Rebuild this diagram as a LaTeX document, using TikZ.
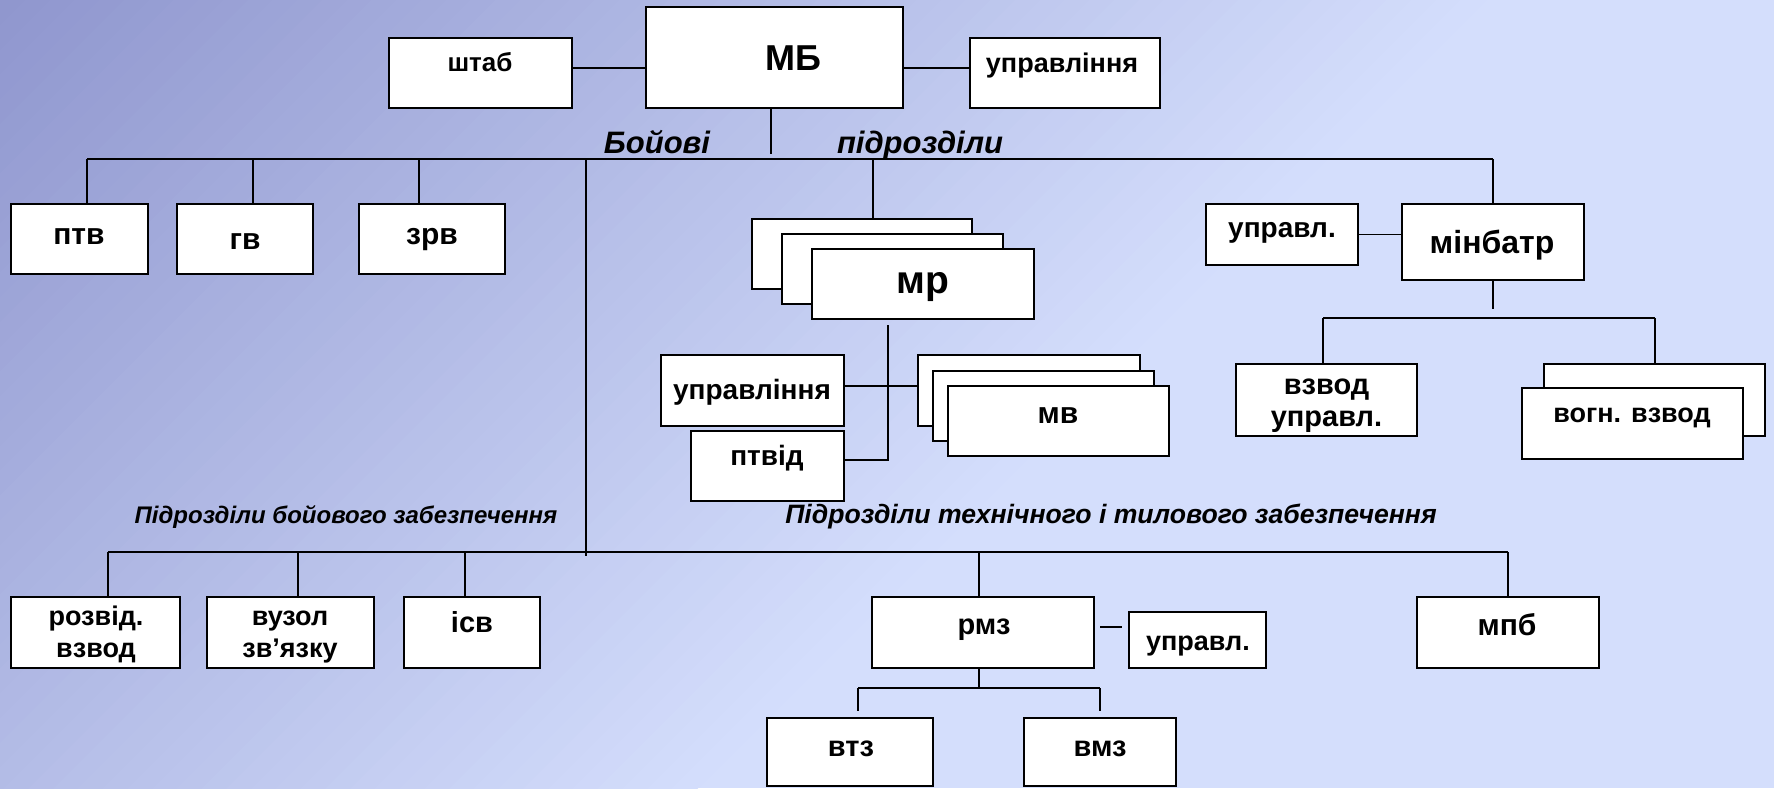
\documentclass[tikz,border=0pt]{standalone}
\usepackage{fontspec}
\setmainfont{Liberation Sans}
\definecolor{bgdark}{RGB}{143,150,206}
\definecolor{bglight}{RGB}{212,222,252}
\begin{document}
\begin{tikzpicture}[x=0.5pt,y=-0.5pt,
  bx/.style 2 args={draw=black, fill=white, line width=0.9pt, minimum width=#1*0.5pt, minimum height=#2*0.5pt, inner sep=0pt, outer sep=0pt},
  lbl/.style={font=\bfseries\fontsize{#1pt}{#1pt}\selectfont, text height=0.72*#1pt, text depth=0.2*#1pt, inner sep=0pt},
  ml/.style={font=\bfseries\fontsize{#1pt}{16pt}\selectfont, align=center, inner sep=0pt},
  it/.style={font=\bfseries\itshape\fontsize{#1pt}{#1pt}\selectfont, inner sep=0pt, anchor=base},
  ln/.style={line width=0.8pt, draw=black}]
\useasboundingbox (0,0) rectangle (1774,788);
% background gradient (diagonal, dark at top-left)
\fill[bglight] (0,0) rectangle (1774,788);
\begin{scope}
\clip (0,0) rectangle (1774,788);
\foreach \i in {0,...,59} {
  \pgfmathsetmacro\sa{\i*24.75}
  \pgfmathsetmacro\sb{\sa+26}
  \pgfmathsetmacro\pc{(\i+0.5)/60*100}
  \fill[bglight!\pc!bgdark] (\sa,0) -- (\sb,0) -- (\sb-900,900) -- (\sa-900,900) -- cycle;
}
\end{scope}

% boxes
\node[bx={183}{70}] (shtab) at (480.5,73) {};
\node[bx={257}{101}] (MB) at (774.5,57.5) {};
\node[bx={190}{70}] (uprT) at (1065,73) {};
\node[bx={137}{70}] (ptv) at (79.5,239) {};
\node[bx={136}{70}] (gv) at (245,239) {};
\node[bx={146}{70}] (zrv) at (432,239) {};
\node[bx={220}{70}] (mr1) at (862,254) {};
\node[bx={221}{70}] (mr2) at (892.5,269) {};
\node[bx={222}{70}] (mr3) at (923,284) {};
\node[bx={183}{71}] (uprM) at (752.5,390.5) {};
\node[bx={153}{70}] (ptvid) at (767.5,466) {};
\node[bx={222}{71}] (mv1) at (1029,390.5) {};
\node[bx={221}{70}] (mv2) at (1043.5,406) {};
\node[bx={221}{70}] (mv3) at (1058.5,421) {};
\node[bx={152}{61}] (uprB) at (1282,234.5) {};
\node[bx={182}{76}] (minb) at (1493,242) {};
\node[bx={181}{72}] (vzu) at (1326.5,400) {};
\node[bx={221}{72}] (vog1) at (1654.5,400) {};
\node[bx={221}{71}] (vog2) at (1632.5,423.5) {};
\node[bx={169}{71}] (rozv) at (95.5,632.5) {};
\node[bx={167}{71}] (vuz) at (290.5,632.5) {};
\node[bx={136}{71}] (isv) at (472,632.5) {};
\node[bx={222}{71}] (rmz) at (983,632.5) {};
\node[bx={137}{56}] (uprR) at (1197.5,640) {};
\node[bx={182}{71}] (mpb) at (1508,632.5) {};
\node[bx={166}{68}] (vtz) at (850,752) {};
\node[bx={152}{68}] (vmz) at (1100,752) {};

% texts
\node[lbl=13] (t-shtab) at (480,65) {штаб};
\node[lbl=18] (t-MB) at (793,61.5) {МБ};
\node[lbl=13.5] (t-uprT) at (1062,65) {управління};
\node[lbl=15] (t-ptv) at (79,237) {птв};
\node[lbl=15] (t-gv) at (245,242) {гв};
\node[lbl=15] (t-zrv) at (432,237) {зрв};
\node[lbl=19.5] (t-mr) at (923,283) {мр};
\node[lbl=14] (t-uprM) at (752,392) {управління};
\node[lbl=14] (t-ptvid) at (767,458) {птвід};
\node[lbl=15] (t-mv) at (1058,416) {мв};
\node[lbl=14] (t-uprB) at (1282,230) {управл.};
\node[lbl=16] (t-minb) at (1492,245) {мінбатр};
\node[ml=14.5] (t-vzu) at (1326.5,405.5) {взвод\\управл.};
\node[lbl=13.5] (t-vog) at (1632,415) {вогн. взвод};
\node[ml=13.5] (t-rozv) at (96,634) {розвід.\\взвод};
\node[ml=13.5] (t-vuz) at (290,637) {вузол\\зв’язку};
\node[lbl=14.5] (t-isv) at (472,625) {ісв};
\node[lbl=14.5] (t-rmz) at (984,627) {рмз};
\node[lbl=13.5] (t-uprR) at (1198,643) {управл.};
\node[lbl=15] (t-mpb) at (1507,628) {мпб};
\node[lbl=14.5] (t-vtz) at (851,749) {втз};
\node[lbl=14.5] (t-vmz) at (1100,749) {вмз};

\node[it=15.5] (t-boy) at (657,153) {Бойові};
\node[it=15.5] (t-pidr) at (920,153) {підрозділи};
\node[it=12] (t-pbz) at (346,523) {Підрозділи бойового забезпечення};
\node[it=13.3] (t-ptz) at (1111,523) {Підрозділи технічного і тилового забезпечення};

% connectors top
\path ([yshift=2.5pt]shtab.east) coordinate (a1);
\draw[ln] (a1) -- (a1 -| MB.west);
\draw[ln] (MB.east |- a1) -- (a1 -| uprT.west);
\draw[ln] ([xshift=-1.75pt]MB.south) -- ++(0,46);
\coordinate (busL) at (87,159);
\coordinate (busR) at (1493,159);
\draw[ln] (busL) -- (busR);
\draw[ln] (busL) -- (busL |- ptv.north);
\coordinate (g1) at (253,159);
\draw[ln] (g1) -- (g1 |- gv.north);
\coordinate (g2) at (419,159);
\draw[ln] (g2) -- (g2 |- zrv.north);
\coordinate (g3) at (873,159);
\draw[ln] (g3) -- (g3 |- mr1.north);
\draw[ln] (busR) -- (minb.north);
\coordinate (vtop) at (586,159);
\coordinate (vbot) at (586,556);
\draw[ln] (vtop) -- (vbot);

% minbatr group
\draw[ln] (uprB.east) -- (uprB.east -| minb.west);
\draw[ln] (minb.south) -- ++(0,29);
\coordinate (b2L) at (1323,318);
\coordinate (b2R) at (1655,318);
\draw[ln] (b2L) -- (b2R);
\draw[ln] (b2L) -- (b2L |- vzu.north);
\draw[ln] (b2R) -- (b2R |- vog1.north);

% mr group
\coordinate (mrtop) at (888,325);
\path ([yshift=3pt]ptvid.east) coordinate (a3);
\draw[ln] (mrtop) -- (mrtop |- a3) -- (a3);
\path ([yshift=2.25pt]uprM.east) coordinate (a2);
\draw[ln] (a2) -- (a2 -| mv1.west);

% bottom
\coordinate (bbL) at (108,552);
\coordinate (bbR) at (1508,552);
\draw[ln] (bbL) -- (bbR);
\draw[ln] (bbL) -- (bbL |- rozv.north);
\coordinate (h1) at (298,552);
\draw[ln] (h1) -- (h1 |- vuz.north);
\coordinate (h2) at (465,552);
\draw[ln] (h2) -- (h2 |- isv.north);
\coordinate (h3) at (979,552);
\draw[ln] (h3) -- (h3 |- rmz.north);
\draw[ln] (bbR) -- (mpb.north);
\path ([xshift=3pt,yshift=2.75pt]rmz.east) coordinate (a4);
\draw[ln] (a4) -- ++(22,0);
\coordinate (sL) at (858,688);
\coordinate (sR) at (1100,688);
\draw[ln] (h3 |- rmz.south) -- (h3 |- sL);
\draw[ln] (sL) -- (sR);
\draw[ln] (sL) -- ++(0,23);
\draw[ln] (sR) -- ++(0,23);
\end{tikzpicture}
\end{document}
